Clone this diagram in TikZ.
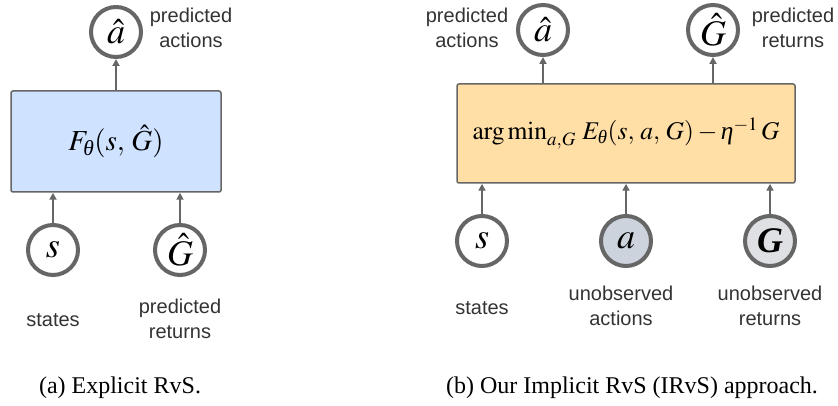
\documentclass[tikz,border=0pt]{standalone}
\usepackage{amsmath}
\usepackage{mathptmx}
\usepackage[no-math]{fontspec}
\setmainfont{Liberation Serif}
\setsansfont{Liberation Sans}
\usetikzlibrary{arrows.meta}

% Greek letters taken from the Times-like text italic
\newcommand{\grtheta}{\text{\itshape θ}}
\newcommand{\greta}{\text{\itshape η}}

\definecolor{edge}{HTML}{666666}
\definecolor{labeltext}{HTML}{333333}
\definecolor{netblue}{HTML}{CFE2FF}
\definecolor{netorange}{HTML}{FFDFA6}
\definecolor{latentA}{HTML}{CDD3DC}
\definecolor{latentG}{HTML}{DFE0E3}

\tikzset{
  var/.style={circle, draw=edge, line width=4pt, fill=white, minimum size=50pt,
              inner sep=0pt, font=\fontsize{36}{40}\selectfont},
  netbox/.style={draw=edge, line width=1.5pt, rounded corners=2pt, inner sep=0pt,
                 font=\fontsize{25.5}{30}\selectfont},
  flow/.style={draw=edge, line width=2pt, -{Triangle[length=7pt,width=7pt]}},
  tag/.style={align=center, text=labeltext, font=\sffamily\fontsize{20}{24.5}\selectfont},
  caption/.style={font=\fontsize{24}{28}\selectfont, text=black}
}

\begin{document}
\begin{tikzpicture}[x=1pt, y=-1pt]
  \useasboundingbox (0,0) rectangle (838,406);

  % (a) explicit model
  \node[netbox, fill=netblue, minimum width=210pt, minimum height=101pt,
        font=\fontsize{29}{34}\selectfont] (f) at (116,141.5)
       {$F_{\grtheta}(s,\,\hat{G})$};
  \node[var] (ahatA) at (116,32) {$\hat{a}$};
  \node[var] (sA) at (53,250) {$s$};
  \node[var] (GhatA) at (180,250) {$\hat{G}$};
  \draw[flow] (f.north) -- (ahatA.south);
  \draw[flow] (sA.north) -- (sA |- f.south);
  \draw[flow] (GhatA.north) -- (GhatA |- f.south);
  \node[tag] (lblActA) at (191,28) {predicted\\actions};
  \node[tag] (lblStA) at (53,320) {states};
  \node[tag] (lblRetA) at (180,319) {predicted\\returns};
  \node[caption] (capA) at (120,388) {(a) Explicit RvS.};

  % (b) implicit model
  \node[netbox, fill=netorange, minimum width=338pt, minimum height=99pt] (e) at (626,133.5)
       {$\mathrm{arg\,min}_{a,G}\ E_{\grtheta}(s,\,a,\,G)-\greta^{-1}\,G$};
  \node[var] (ahatB) at (543,30) {$\hat{a}$};
  \node[var] (GhatB) at (713,30) {$\hat{G}$};
  \node[var] (sB) at (482,241) {$s$};
  \node[var, fill=latentA] (aB) at (626,241) {$a$};
  \node[var, fill=latentG] (GB) at (770,241) {\textbf{\textit{G}}};
  \draw[flow] (ahatB |- e.north) -- (ahatB.south);
  \draw[flow] (GhatB |- e.north) -- (GhatB.south);
  \draw[flow] (sB.north) -- (sB |- e.south);
  \draw[flow] (aB.north) -- (aB |- e.south);
  \draw[flow] (GB.north) -- (GB |- e.south);
  \node[tag] (lblActB) at (467,28) {predicted\\actions};
  \node[tag] (lblRetB) at (793,28) {predicted\\returns};
  \node[tag] (lblStB) at (482,308) {states};
  \node[tag] (lblUaB) at (621,306) {unobserved\\actions};
  \node[tag] (lblUgB) at (770,306) {unobserved\\returns};
  \node[caption] (capB) at (632,388) {(b) Our Implicit RvS (IRvS) approach.};
\end{tikzpicture}
\end{document}
